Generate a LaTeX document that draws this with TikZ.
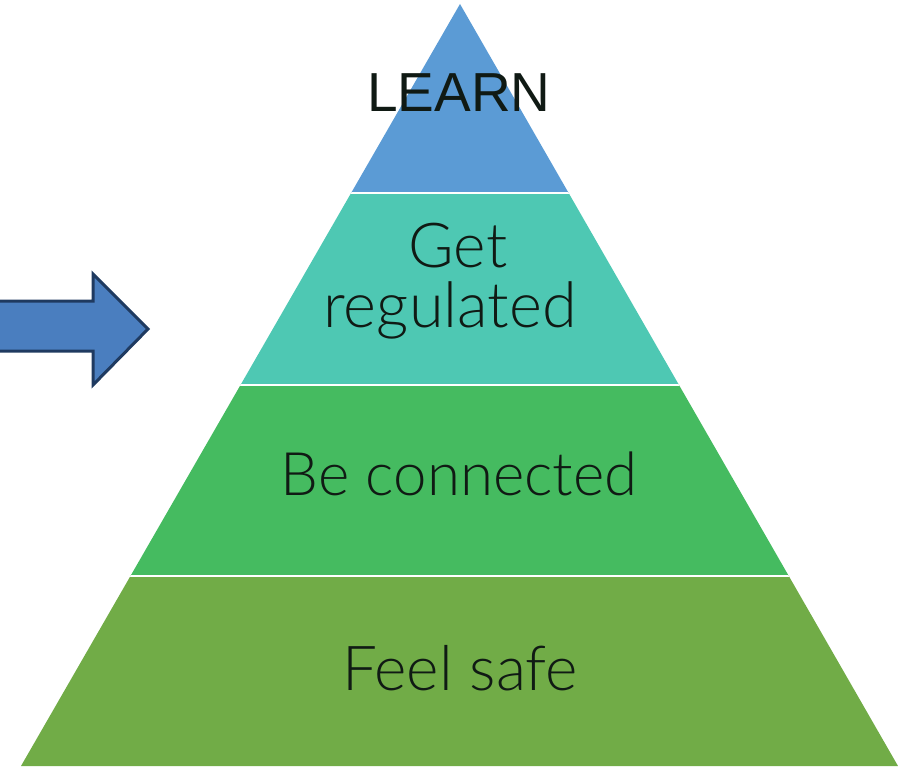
\documentclass[tikz,border=0pt]{standalone}
\usepackage{fontspec}
\newfontfamily\lightfont{Lato}[UprightFont=* Light]
\newfontfamily\arialfont{Liberation Sans}
\definecolor{cLearn}{HTML}{5B9BD5}
\definecolor{cReg}{HTML}{4EC8B3}
\definecolor{cConn}{HTML}{45BB60}
\definecolor{cSafe}{HTML}{71AC47}
\definecolor{cArrow}{HTML}{4A7EBF}
\definecolor{cArrowLine}{HTML}{1F3A60}
\definecolor{cText}{HTML}{101A14}
\begin{document}
\begin{tikzpicture}[x=1pt,y=-1pt,
  sep/.style={draw=white,line width=2.5pt},
  lbl/.style={text=cText,inner sep=0pt,anchor=base}]
\useasboundingbox (0,0) rectangle (899,767);
% pyramid
\begin{scope}
  \clip (460,4) -- (898,766) -- (21,766) -- cycle;
  \fill[cLearn] (0,0) rectangle (899,193);
  \fill[cReg] (0,193) rectangle (899,385);
  \fill[cConn] (0,385) rectangle (899,576);
  \fill[cSafe] (0,576) rectangle (899,767);
  \draw[sep] (0,193) -- (899,193);
  \draw[sep] (0,385) -- (899,385);
  \draw[sep] (0,576) -- (899,576);
\end{scope}
% arrow
\draw[fill=cArrow,draw=cArrowLine,line width=3pt,line join=miter]
  (-5,301) -- (93,301) -- (93,274) -- (148,329) -- (93,385) -- (93,351) -- (-5,351) -- cycle;
% labels
\node[lbl,font=\arialfont\fontsize{55}{55}\selectfont] (learn) at (459,112) {LEARN};
\node[lbl,font=\lightfont\fontsize{62}{62}\selectfont] (get) at (458,268) {Get};
\node[lbl,font=\lightfont\fontsize{63}{63}\selectfont] (reg) at (450,327) {regulated};
\node[lbl,font=\lightfont\fontsize{60}{60}\selectfont] (conn) at (459,495) {Be connected};
\node[lbl,font=\lightfont\fontsize{62}{62}\selectfont] (safe) at (460,690) {Feel safe};
\end{tikzpicture}
\end{document}
